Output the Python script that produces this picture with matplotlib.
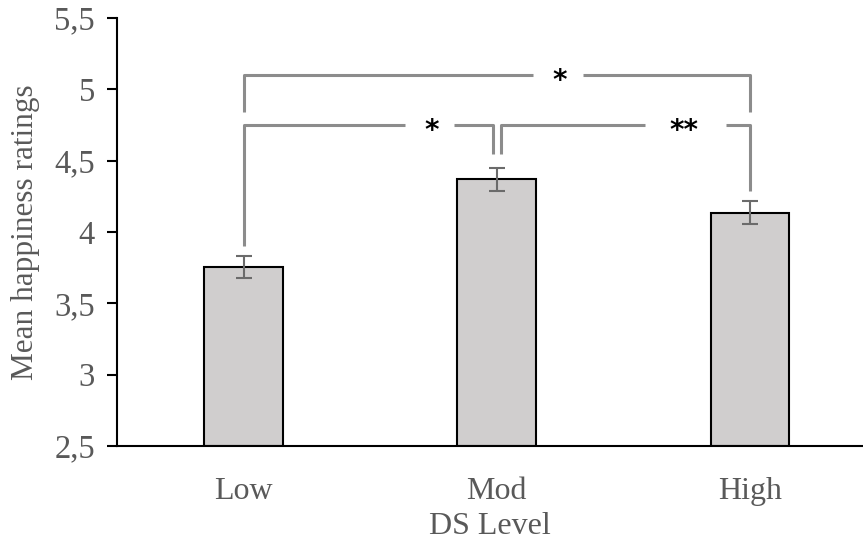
import matplotlib
matplotlib.use("Agg")
import matplotlib.pyplot as plt

categories = ["Low", "Mod", "High"]
means = [3.755, 4.37, 4.135]
errors = [0.08, 0.08, 0.08]
yticks = [2.5, 3.0, 3.5, 4.0, 4.5, 5.0, 5.5]
ytick_labels = ["2,5", "3", "3,5", "4", "4,5", "5", "5,5"]

# brackets: (x_left, x_right, y, left_leg_bottom, right_leg_bottom, label, label_x, gap_left, gap_right)
brackets = [
    (0.0, 2.0, 5.10, 4.84, 4.84, "*", 1.249, 1.142, 1.340),
    (0.0, 0.984, 4.75, 3.90, 4.55, "*", 0.743, 0.636, 0.830),
    (1.016, 2.0, 4.75, 4.55, 4.29, "**", 1.739, 1.585, 1.905),
]

plt.rcParams["font.family"] = ["Liberation Serif", "DejaVu Serif"]
txt = "#595959"

fig = plt.figure(figsize=(8.63, 5.45), dpi=100)
ax = fig.add_axes([117 / 863, 99 / 545, (863 - 117) / 863, (446 - 18) / 545])

x = list(range(len(categories)))
ax.bar(x, [m - 2.5 for m in means], bottom=2.5, width=0.31, color="#D0CECE",
       edgecolor="black", linewidth=1.5, zorder=2)
ax.errorbar(x, means, yerr=errors, fmt="none", ecolor="#6b6b6b", elinewidth=1.5,
            capsize=5.5, capthick=1.5, zorder=3)

bc = "#8c8c8c"
for xl, xr, y, lb, rb, lab, lx, gl, gr in brackets:
    ax.plot([xl, xl, gl], [lb, y, y], color=bc, lw=2.2, solid_capstyle="butt", zorder=1)
    ax.plot([gr, xr, xr], [y, y, rb], color=bc, lw=2.2, solid_capstyle="butt", zorder=1)
    ax.text(lx, y - 0.045, lab, ha="center", va="center", fontsize=20,
            color="black", family="DejaVu Sans", fontweight="bold")

ax.set_xlim(-0.5, 2.447)
ax.set_ylim(2.5, 5.5)
ax.set_yticks(yticks)
ax.set_yticklabels(ytick_labels)
ax.set_xticks(x)
ax.set_xticklabels(categories)
ax.tick_params(axis="y", direction="out", length=7, width=1.5, colors="black",
               labelcolor=txt, labelsize=23.5, pad=9)
ax.tick_params(axis="x", length=0, labelcolor=txt, labelsize=23, pad=22)
for s in ["top", "right"]:
    ax.spines[s].set_visible(False)
ax.spines["left"].set_linewidth(1.5)
ax.spines["bottom"].set_linewidth(1.5)
ax.set_xlabel("DS Level", fontsize=23, color=txt, labelpad=5)
ax.set_ylabel("Mean happiness ratings", fontsize=22.5, color=txt, labelpad=10)

fig.savefig("out.png", dpi=100)
